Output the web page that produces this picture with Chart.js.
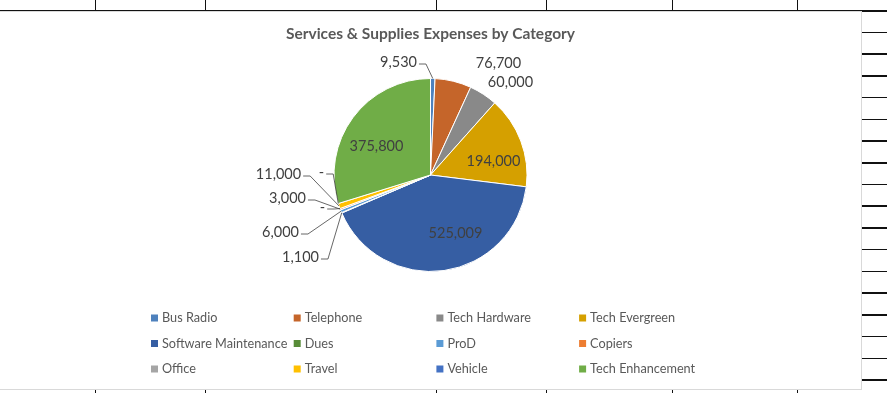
<!DOCTYPE html>
<html>
<head>
<meta charset="utf-8">
<title>Services & Supplies Expenses by Category</title>
<script src="https://cdn.jsdelivr.net/npm/chart.js@4.4.0/dist/chart.umd.min.js"></script>
<style>
  body { margin: 0; background: #fff; width: 887px; height: 393px; position: relative; overflow: hidden; }
  .line { position: absolute; background: #111; }
  #chartBox { position: absolute; left: -1px; top: 11px; width: 861px; height: 377px; border: 1px solid #d9d9d9; background: #fff; }
  canvas { display: block; }
</style>
</head>
<body>
<div id="sheet"></div>
<div id="chartBox"><canvas id="expenseChart" width="861" height="377"></canvas></div>
<script>
const categories = [
  "Bus Radio", "Telephone", "Tech Hardware", "Tech Evergreen",
  "Software Maintenance", "Dues", "ProD", "Copiers",
  "Office", "Travel", "Vehicle", "Tech Enhancement"
];
const amounts = [9530, 76700, 60000, 194000, 525009, 1100, 6000, 3000, 0, 11000, 0, 375800];
const sliceColors = [
  "#4e81bd", "#c5652a", "#898989", "#d5a000",
  "#365ea3", "#588c38", "#5b9bd5", "#ed7d31",
  "#a5a5a5", "#ffc000", "#4472c4", "#70ad47"
];

// where each value label sits, relative to the pie centre (line = draw a leader)
const labelSpots = [
  { dx: -32, dy: -113, line: true },
  { dx: 68, dy: -112 },
  { dx: 80, dy: -93 },
  { dx: 63, dy: -14 },
  { dx: 25, dy: 58 },
  { dx: -130, dy: 82, line: true },
  { dx: -150, dy: 57, line: true },
  { dx: -143, dy: 23, line: true },
  { dx: -108, dy: 32, line: true },
  { dx: -152, dy: -1, line: true },
  { dx: -109, dy: -3, line: true },
  { dx: -54, dy: -29 }
];

// spreadsheet cell borders around the chart
const sheet = document.getElementById("sheet");
function addLine(left, top, width, height) {
  const d = document.createElement("div");
  d.className = "line";
  d.style.cssText = `left:${left}px;top:${top}px;width:${width}px;height:${height}px`;
  sheet.appendChild(d);
}
addLine(0, 9.5, 887, 1.5);
[95, 205, 436, 546, 672, 797].forEach((x) => {
  addLine(x, 0, 1, 10);
  addLine(x, 389, 1, 4);
});
for (let i = 0; i < 18; i++) addLine(862, 10 + i * 21.72, 25, 1.5);

const fmt = (v) => (v === 0 ? "-" : v.toLocaleString("en-US"));

const valueLabels = {
  id: "valueLabels",
  afterDatasetsDraw(chart) {
    const ctx = chart.ctx;
    const arcs = chart.getDatasetMeta(0).data;
    ctx.save();
    ctx.font = "14.5px Lato";
    ctx.textAlign = "center";
    ctx.textBaseline = "middle";
    arcs.forEach((arc, i) => {
      const spot = labelSpots[i];
      const lx = arc.x + spot.dx;
      const ly = arc.y + spot.dy;
      const text = fmt(amounts[i]);
      if (spot.line) {
        const mid = (arc.startAngle + arc.endAngle) / 2;
        const px = arc.x + Math.cos(mid) * arc.outerRadius;
        const py = arc.y + Math.sin(mid) * arc.outerRadius;
        const half = ctx.measureText(text).width / 2;
        const dir = px > lx ? 1 : -1;
        const sx = lx + dir * (half + 2);
        const sy = ly + 2;
        ctx.strokeStyle = "#404040";
        ctx.lineWidth = 0.8;
        ctx.beginPath();
        ctx.moveTo(sx, sy);
        ctx.lineTo(sx + dir * 7, sy);
        ctx.lineTo(px, py);
        ctx.stroke();
      }
      ctx.fillStyle = "#404040";
      ctx.fillText(text, lx, ly);
    });
    ctx.restore();
  }
};

// four-column legend grid under the pie
const gridLegend = {
  id: "gridLegend",
  afterDraw(chart) {
    const ctx = chart.ctx;
    const x0 = 151, colW = 142.7, y0 = 306, rowH = 25.5;
    ctx.save();
    ctx.font = "12.7px Lato";
    ctx.textBaseline = "middle";
    ctx.textAlign = "left";
    chart.data.labels.forEach((name, i) => {
      const x = x0 + (i % 4) * colW;
      const y = y0 + Math.floor(i / 4) * rowH;
      ctx.fillStyle = sliceColors[i];
      ctx.fillRect(x, y - 3.5, 7, 7);
      ctx.fillStyle = "#595959";
      ctx.fillText(name, x + 11, y);
    });
    ctx.restore();
  }
};

Chart.defaults.font.family = "Lato";

new Chart(document.getElementById("expenseChart"), {
  type: "pie",
  data: {
    labels: categories,
    datasets: [{
      data: amounts,
      backgroundColor: sliceColors,
      borderColor: "#ffffff",
      borderWidth: 1
    }]
  },
  options: {
    responsive: false,
    animation: false,
    layout: { padding: { top: 0, bottom: 117, left: 0, right: 0 } },
    plugins: {
      legend: { display: false },
      tooltip: { enabled: false },
      title: {
        display: true,
        text: "Services & Supplies Expenses by Category",
        color: "#595959",
        font: { family: "Lato", size: 15.5, weight: "bold" },
        padding: { top: 12.7, bottom: 34.7 }
      }
    }
  },
  plugins: [valueLabels, gridLegend]
});
</script>
</body>
</html>
